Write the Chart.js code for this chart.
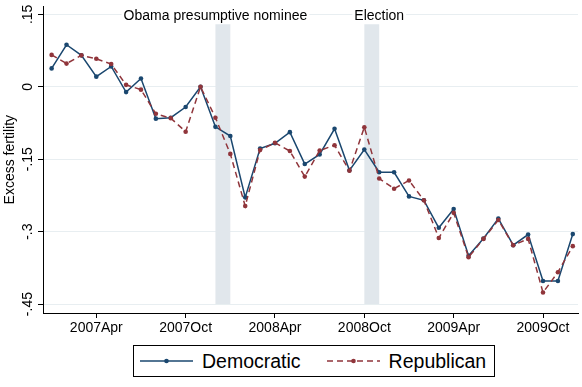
<!DOCTYPE html>
<html>
<head>
<meta charset="utf-8">
<script src="https://cdn.jsdelivr.net/npm/chart.js@4.4.1/dist/chart.umd.min.js"></script>
<style>
    html, body { margin: 0; padding: 0; background: #fff; }
    #wrap { position: relative; width: 582px; height: 387px; }
    #legend {
        position: absolute; left: 133px; top: 345px; width: 362px; height: 32px;
        box-sizing: border-box; border: 1px solid #000; background: #fff;
        display: flex; align-items: center; padding-left: 6px;
        font-family: "Liberation Sans", Arial, sans-serif; font-size: 19.5px; color: #000;
    }
    #legend svg { display: block; }
</style>
</head>
<body>
<div id="wrap">
    <canvas id="fertilityChart" width="582" height="387"></canvas>
    <div id="legend"></div>
</div>
<script>
// 月份索引: 0 = 2007年1月
const months = Array.from({length: 36}, (_, i) => i);

const democratic = [0.038, 0.087, 0.065, 0.021, 0.042, -0.011, 0.017, -0.066, -0.064, -0.042, 0.000, -0.083,
                    -0.102, -0.229, -0.128, -0.117, -0.094, -0.160, -0.140, -0.087, -0.173, -0.130, -0.177, -0.177,
                    -0.227, -0.235, -0.292, -0.253, -0.350, -0.314, -0.273, -0.328, -0.306, -0.402, -0.402, -0.305];
const republican = [0.066, 0.048, 0.065, 0.058, 0.047, 0.004, -0.006, -0.056, -0.065, -0.093, 0.000, -0.064,
                    -0.139, -0.247, -0.131, -0.116, -0.133, -0.186, -0.132, -0.121, -0.174, -0.084, -0.190, -0.211,
                    -0.194, -0.235, -0.313, -0.261, -0.353, -0.315, -0.276, -0.328, -0.315, -0.426, -0.384, -0.330];

const xTicks = [3, 9, 15, 21, 27, 33];
const xTickLabels = ['2007Apr', '2007Oct', '2008Apr', '2008Oct', '2009Apr', '2009Oct'];
const yTicks = [-0.45, -0.3, -0.15, 0, 0.15];
const yTickLabels = ['-.45', '-.3', '-.15', '0', '.15'];

// 事件区间 (阴影) 和标注文字
const eventLabels = ['Obama presumptive nominee', 'Election'];
const eventStart = [11, 21];
const eventEnd = [12, 22];
const eventTextAt = [11, 22];

const FONT = '"Liberation Sans", Arial, sans-serif';
const DEM_COLOR = '#1a476f';
const REP_COLOR = '#90353b';

// 阴影区间 + 顶部标注
const eventPlugin = {
    id: 'events',
    beforeDatasetsDraw(chart) {
        const {ctx, scales: {x, y}} = chart;
        ctx.save();
        ctx.fillStyle = '#e1e7ec';
        const yTop = y.getPixelForValue(0.15);
        const yBot = y.getPixelForValue(-0.45);
        eventStart.forEach((s, i) => {
            const x0 = x.getPixelForValue(s);
            const x1 = x.getPixelForValue(eventEnd[i]);
            ctx.fillRect(x0, yTop, x1 - x0, yBot - yTop);
        });
        ctx.font = '14px ' + FONT;
        ctx.textAlign = 'center';
        ctx.textBaseline = 'middle';
        const ty = y.getPixelForValue(0.146);
        eventLabels.forEach((t, i) => {
            const tx = x.getPixelForValue(eventTextAt[i]);
            const w = ctx.measureText(t).width;
            ctx.fillStyle = '#fff';
            ctx.fillRect(tx - w / 2 - 2, ty - 8, w + 4, 16);
            ctx.fillStyle = '#000';
            ctx.fillText(t, tx, ty);
        });
        ctx.restore();
    }
};

const ctx = document.getElementById('fertilityChart').getContext('2d');
const chart = new Chart(ctx, {
    type: 'line',
    data: {
        datasets: [
            {
                label: 'Democratic',
                data: months.map((m, i) => ({x: m, y: democratic[i]})),
                borderColor: DEM_COLOR,
                backgroundColor: DEM_COLOR,
                borderWidth: 1.5,
                pointRadius: 2.3,
                pointBorderWidth: 0,
                tension: 0,
                order: 1
            },
            {
                label: 'Republican',
                data: months.map((m, i) => ({x: m, y: republican[i]})),
                borderColor: REP_COLOR,
                backgroundColor: REP_COLOR,
                borderWidth: 1.5,
                borderDash: [6, 4],
                pointRadius: 2.3,
                pointBorderWidth: 0,
                tension: 0,
                order: 0
            }
        ]
    },
    options: {
        responsive: false,
        animation: false,
        devicePixelRatio: 1,
        layout: { padding: { top: 3, right: 0, bottom: 44, left: 0 } },
        plugins: {
            legend: { display: false },
            tooltip: { enabled: false }
        },
        scales: {
            x: {
                type: 'linear',
                min: -0.58,
                max: 35.35,
                afterBuildTicks: s => { s.ticks = xTicks.map(v => ({value: v})); },
                afterFit: s => { s.height = 30; },
                ticks: {
                    callback: (v, i) => xTickLabels[i],
                    autoSkip: false,
                    maxRotation: 0,
                    padding: 2,
                    color: '#000',
                    font: { family: FONT, size: 14 }
                },
                grid: { drawOnChartArea: false, tickColor: '#000', tickLength: 5 },
                border: { color: '#000', width: 1 }
            },
            y: {
                type: 'linear',
                min: -0.4684,
                max: 0.1664,
                afterBuildTicks: s => { s.ticks = yTicks.map(v => ({value: v})); },
                afterFit: s => { s.width = 43; },
                ticks: {
                    callback: (v, i) => yTickLabels[i],
                    minRotation: 90,
                    maxRotation: 90,
                    crossAlign: 'center',
                    padding: -2,
                    color: '#000',
                    font: { family: FONT, size: 14 }
                },
                grid: { color: '#e8eef1', tickColor: '#000', tickLength: 5, lineWidth: 1 },
                border: { color: '#000', width: 1 },
                title: {
                    display: true,
                    text: 'Excess fertility',
                    color: '#000',
                    font: { family: FONT, size: 14 },
                    padding: { top: 2, bottom: 0 }
                }
            }
        }
    },
    plugins: [eventPlugin]
});

// HTML 图例
const legendEl = document.getElementById('legend');
const gaps = [0, 26];
chart.data.datasets.forEach((ds, i) => {
    const w = 53;
    const dash = ds.borderDash ? ` stroke-dasharray="${ds.borderDash.join(' ')}"` : '';
    const svg = `<svg width="${w}" height="10" style="margin-left:${gaps[i]}px;margin-right:9px">` +
        `<line x1="0" y1="5" x2="${w}" y2="5" stroke="${ds.borderColor}" stroke-width="1.5"${dash}/>` +
        `<circle cx="${w / 2}" cy="5" r="2.3" fill="${ds.backgroundColor}"/></svg>`;
    legendEl.insertAdjacentHTML('beforeend', svg + `<span>${ds.label}</span>`);
});
</script>
</body>
</html>
